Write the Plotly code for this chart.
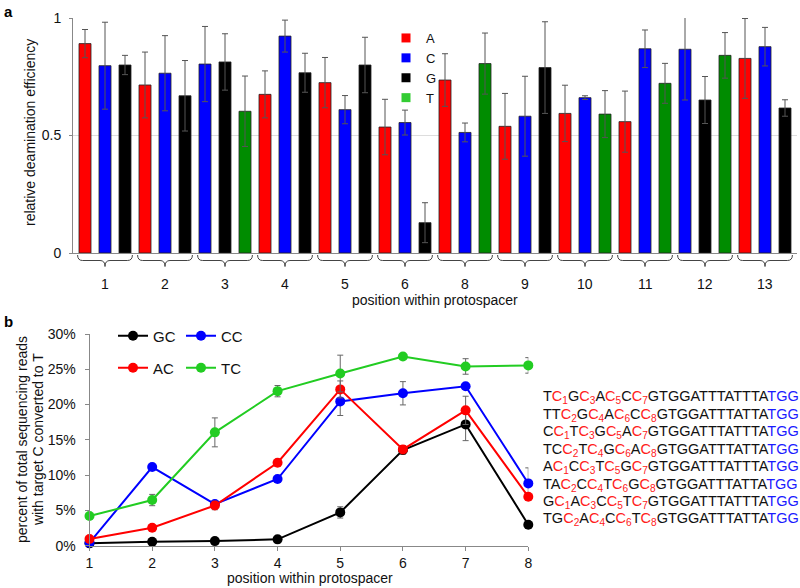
import plotly.graph_objects as go

# ---------------- panel a data ----------------
positions_a = ["1", "2", "3", "4", "5", "6", "8", "9", "10", "11", "12", "13"]
bases_a = [["A", "C", "G"], ["A", "C", "G"], ["C", "G", "T"], ["A", "C", "G"],
           ["A", "C", "G"], ["A", "C", "G"], ["A", "C", "T"], ["A", "C", "G"],
           ["A", "C", "T"], ["A", "C", "T"], ["C", "G", "T"], ["A", "C", "G"]]
efficiency_a = [[0.891, 0.797, 0.800], [0.715, 0.765, 0.669], [0.804, 0.813, 0.603],
                [0.675, 0.923, 0.767], [0.725, 0.610, 0.800], [0.536, 0.555, 0.129],
                [0.736, 0.513, 0.806], [0.539, 0.582, 0.789], [0.594, 0.661, 0.591],
                [0.559, 0.869, 0.722], [0.867, 0.651, 0.841], [0.828, 0.878, 0.617]]
error_a = [[0.060, 0.185, 0.041], [0.140, 0.160, 0.150], [0.160, 0.120, 0.150],
           [0.100, 0.068, 0.083], [0.107, 0.060, 0.118], [0.118, 0.053, 0.085],
           [0.112, 0.040, 0.130], [0.140, 0.170, 0.195], [0.120, 0.008, 0.100],
           [0.130, 0.080, 0.085], [0.216, 0.100, 0.097], [0.170, 0.082, 0.035]]
base_names = ["A", "C", "G", "T"]
bar_colors = {"A": "#ff0000", "C": "#0000ff", "G": "#000000", "T": "#008c00"}
legend_colors = {"A": "#ff0000", "C": "#0000ff", "G": "#000000", "T": "#33cc33"}

# ---------------- panel b data ----------------
positions_b = [1, 2, 3, 4, 5, 6, 7, 8]
series_b = ["GC", "CC", "AC", "TC"]
values_b = {
    "GC": [0.33, 0.55, 0.65, 0.90, 4.72, 13.56, 17.19, 2.98],
    "CC": [0.43, 11.15, 5.90, 9.45, 20.45, 21.60, 22.60, 8.83],
    "AC": [0.94, 2.55, 5.70, 11.76, 22.15, 13.65, 19.18, 6.94],
    "TC": [4.20, 6.47, 16.06, 21.90, 24.40, 26.80, 25.40, 25.55],
}
errors_b = {
    "GC": [0.1, 0.1, 0.1, 0.1, 0.8, 0.6, 2.3, 0.2],
    "CC": [0.1, 0.2, 0.2, 0.2, 2.0, 1.65, 0.3, 2.2],
    "AC": [0.1, 0.2, 0.6, 0.2, 1.2, 0.4, 2.0, 0.3],
    "TC": [0.2, 0.8, 2.05, 0.8, 2.6, 0.2, 1.1, 1.1],
}
line_colors = {"GC": "#000000", "CC": "#0000ff", "AC": "#ff0000", "TC": "#22cc22"}
legend_rows_b = [["GC", "CC"], ["AC", "TC"]]
y_ticks_b = [0, 5, 10, 15, 20, 25, 30]

# sequences ("C<n>" = red target C with subscript, after "|" = blue PAM)
sequences = [
    "TC1GC3AC5CC7GTGGATTTATTTA|TGG",
    "TTC2GC4AC6CC8GTGGATTTATTA|TGG",
    "CC1TC3GC5AC7GTGGATTTATTTA|TGG",
    "TCC2TC4GC6AC8GTGGATTTATTA|TGG",
    "AC1CC3TC5GC7GTGGATTTATTTA|TGG",
    "TAC2CC4TC6GC8GTGGATTTATTA|TGG",
    "GC1AC3CC5TC7GTGGATTTATTTA|TGG",
    "TGC2AC4CC6TC8GTGGATTTATTA|TGG",
]

FONT = "Arial, Liberation Sans, sans-serif"
W, H = 800, 588


def py(px):
    return 1 - px / H


fig = go.Figure()

# ---- panel a bars ----
for b in base_names:
    xs, ys, es = [], [], []
    for g, (bs, vals, errs) in enumerate(zip(bases_a, efficiency_a, error_a)):
        for k, (bb, v, e) in enumerate(zip(bs, vals, errs)):
            if bb == b:
                xs.append(g * 3 + k)
                ys.append(v)
                es.append(e)
    fig.add_trace(go.Bar(
        x=xs, y=ys, width=0.6, xaxis="x", yaxis="y",
        marker=dict(color=bar_colors[b], line=dict(color="#222222", width=0.8)),
        error_y=dict(type="data", array=es, visible=True, color="#555555",
                     thickness=1, width=3),
        showlegend=False, name=b,
    ))
for b in base_names:
    fig.add_trace(go.Scatter(
        x=[None], y=[None], mode="markers", name=b, xaxis="x", yaxis="y",
        marker=dict(symbol="square", size=9, color=legend_colors[b]),
        legend="legend",
    ))

# ---- panel b lines ----
for s in series_b:
    leg = "legend2" if s in legend_rows_b[0] else "legend3"
    fig.add_trace(go.Scatter(
        x=positions_b, y=values_b[s], name=s, mode="lines+markers",
        xaxis="x2", yaxis="y2", cliponaxis=False,
        line=dict(color=line_colors[s], width=2),
        marker=dict(color=line_colors[s], size=10),
        error_y=dict(type="data", array=errors_b[s], visible=True,
                     color="#666666", thickness=1, width=3),
        legend=leg,
    ))

shapes = []
annotations = []
# braces and group labels for panel a
ytop, ymid, ytip = py(255), py(260.5), py(266.5)
for g, lab in enumerate(positions_a):
    x0, x1, c = g * 3 - 0.37, g * 3 + 2.37, g * 3 + 1
    d = 0.25
    path = (f"M{x0},{ytop} Q{x0},{ymid} {x0 + d},{ymid} L{c - d},{ymid} "
            f"Q{c},{ymid} {c},{ytip} Q{c},{ymid} {c + d},{ymid} "
            f"L{x1 - d},{ymid} Q{x1},{ymid} {x1},{ytop}")
    shapes.append(dict(type="path", path=path, xref="x", yref="paper",
                       line=dict(color="#444444", width=1)))
    annotations.append(dict(x=c, y=py(284), xref="x", yref="paper", text=lab,
                            xanchor="center", yanchor="middle",
                            showarrow=False, font=dict(size=14, color="#111")))


def label(x, y, text, angle=0, size=14):
    return dict(x=x / W, y=py(y), xref="paper", yref="paper", text=text,
                showarrow=False, textangle=angle, xanchor="center",
                yanchor="middle", font=dict(size=size, color="#111"))


annotations += [
    dict(x=2 / W, y=py(1), xref="paper", yref="paper", text="<b>a</b>", showarrow=False,
         xanchor="left", yanchor="top", font=dict(size=15, color="#000")),
    dict(x=2 / W, y=py(311), xref="paper", yref="paper", text="<b>b</b>", showarrow=False,
         xanchor="left", yanchor="top", font=dict(size=15, color="#000")),
    label(435, 300, "position within protospacer"),
    label(30, 133, "relative deamination efficiency", angle=-90),
    label(310, 578, "position within protospacer"),
    label(22, 440, "percent of total sequencing reads", angle=-90),
    label(38, 440, "with target C converted to T", angle=-90),
]


def seq_html(seq):
    main, pam = seq.split("|")
    out = ""
    i = 0
    while i < len(main):
        ch = main[i]
        if ch == "C" and i + 1 < len(main) and main[i + 1].isdigit():
            out += f"<span style='color:#ff2020'>C<sub>{main[i + 1]}</sub></span>"
            i += 2
        else:
            out += ch
            i += 1
    return out + f"<span style='color:#1a1aff'>{pam}</span>"


for i, s in enumerate(sequences):
    annotations.append(dict(x=541 / W, y=py(397.5 + i * 17.4), xref="paper", yref="paper",
                            text=seq_html(s), showarrow=False, xanchor="left",
                            yanchor="middle", font=dict(size=14.5, color="#111")))

axis_common = dict(linecolor="#888888", linewidth=1, showline=True, zeroline=False,
                   automargin=False, tickfont=dict(size=14, color="#111"),
                   tickcolor="#888888")

fig.update_layout(
    template="none",
    width=W, height=H, margin=dict(l=0, r=0, t=0, b=0, pad=0, autoexpand=False),
    paper_bgcolor="white", plot_bgcolor="white",
    font=dict(family=FONT, color="#111"),
    barmode="overlay",
    shapes=shapes, annotations=annotations,
    xaxis=dict(domain=[73 / W, 797 / W], range=[-0.6, 35.6], showticklabels=False,
               ticks="", showgrid=False, anchor="y", **axis_common),
    yaxis=dict(domain=[py(253), py(18)], range=[0, 1], tickmode="array",
               tickvals=[0, 0.5, 1], ticktext=["0", "0.5", "1"], ticks="outside",
               ticklen=3, ticklabelstandoff=5, showgrid=True, gridcolor="#dddddd",
               anchor="x", **axis_common),
    xaxis2=dict(domain=[89.5 / W, 528.3 / W], range=[1, 8], tickmode="array",
                tickvals=positions_b, ticktext=[str(p) for p in positions_b],
                ticks="outside", ticklen=4, showgrid=False, anchor="y2", **axis_common),
    yaxis2=dict(domain=[py(545.7), py(334)], range=[0, 30], tickmode="array",
                tickvals=y_ticks_b, ticktext=[f"{v}%" for v in y_ticks_b],
                ticks="outside", ticklen=4, ticklabelstandoff=6,
                showgrid=False, anchor="x2", **axis_common),
    legend=dict(x=386 / W, y=py(23), xanchor="left", yanchor="top",
                bgcolor="rgba(0,0,0,0)", font=dict(size=13, color="#111"),
                tracegroupgap=0, itemclick=False),
    legend2=dict(x=113 / W, y=py(336), xanchor="left", yanchor="middle",
                 orientation="h", entrywidth=23, entrywidthmode="pixels",
                 bgcolor="rgba(0,0,0,0)", font=dict(size=15, color="#111")),
    legend3=dict(x=113 / W, y=py(368), xanchor="left", yanchor="middle",
                 orientation="h", entrywidth=23, entrywidthmode="pixels",
                 bgcolor="rgba(0,0,0,0)", font=dict(size=15, color="#111")),
)

fig.write_html("out.html", config={"displayModeBar": False},
               post_script="document.body.style.margin='0px';document.body.style.padding='0px';")
